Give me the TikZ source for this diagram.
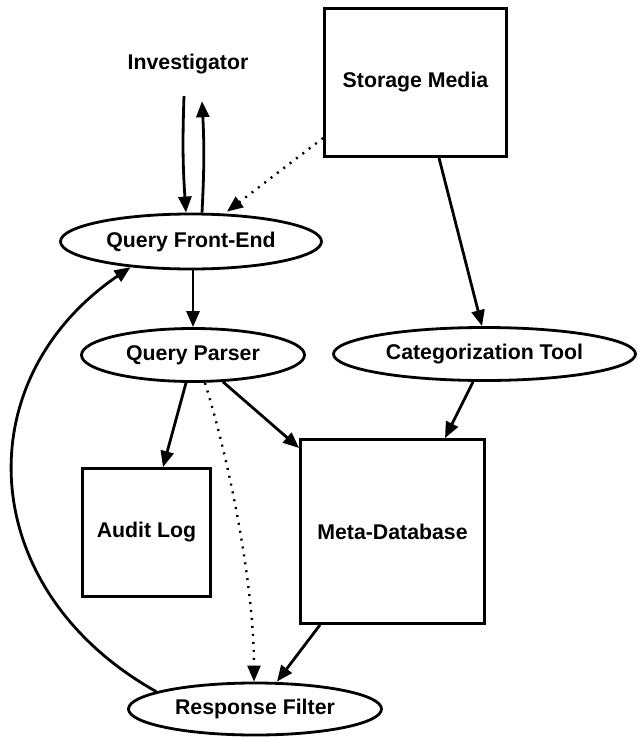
\documentclass[tikz,border=0pt]{standalone}
\usepackage{fontspec}
\setmainfont{Liberation Sans}
\usetikzlibrary{shapes.geometric,arrows.meta}
\begin{document}
\begin{tikzpicture}[x=1pt,y=-1pt,
  every node/.style={font=\fontsize{21.3}{25}\selectfont\bfseries},
  lw/.style={line width=2.8pt},
  oval/.style={lw,draw,ellipse,inner sep=0pt},
  boxn/.style={lw,draw,rectangle,inner sep=0pt},
  arr/.style={lw,-{Triangle[length=16pt,width=13pt]}},
  dotarr/.style={line width=2.4pt,dash pattern=on 2pt off 6pt,-{Triangle[length=16pt,width=13pt]}}]
\useasboundingbox (0,0) rectangle (637,738);
\node[minimum height=64pt,inner sep=0pt] (inv) at (188,64) {Investigator};
\node[boxn,minimum width=182pt,minimum height=148pt] (sm) at (415.5,82.5) {Storage Media};
\node[oval,minimum width=261pt,minimum height=55pt] (qfe) at (191,241.5) {Query Front-End};
\node[oval,minimum width=223pt,minimum height=53pt] (qp) at (193,355) {Query Parser};
\node[oval,minimum width=302pt,minimum height=53pt] (ct) at (484.5,354) {Categorization Tool};
\node[boxn,minimum width=128pt,minimum height=128pt] (al) at (146.5,532.5) {Audit Log};
\node[boxn,minimum width=184pt,minimum height=184pt] (md) at (392.5,531.5) {Meta-Database};
\node[oval,minimum width=253pt,minimum height=52pt] (rf) at (255,709) {Response Filter};
% Investigator <-> Query Front-End
\draw[arr] ([xshift=-4pt]inv.south) to[bend right=3] ([xshift=-5pt]qfe.north);
\draw[arr] ([xshift=11pt]qfe.north) to[bend right=3] ([xshift=14pt,yshift=-5pt]inv.south);
% Storage Media dotted to Front-End
\draw[dotarr] ([yshift=-55.5pt]sm.west) -- ([xshift=36pt,yshift=1pt]qfe.north);
% Front-End -> Parser
\draw[arr] ([xshift=2pt]qfe.south) -- (qp.north);
% Parser -> Audit Log
\draw[arr] ([xshift=-7pt]qp.south) -- ([xshift=16.5pt]al.north);
% Parser -> Meta-Database
\draw[arr] ([xshift=30pt,yshift=1pt]qp.south) -- ([yshift=83.5pt]md.west);
% Parser dotted -> Response Filter
\draw[dotarr] ([xshift=12pt]qp.south) .. controls (232,470) and (254,590) .. ([xshift=-1pt]rf.north);
% Storage -> Categorization
\draw[arr] ([xshift=23.5pt]sm.south) -- ([xshift=-2.5pt]ct.north);
% Categorization -> Meta-Database
\draw[arr] ([xshift=-11.5pt]ct.south) -- ([xshift=52.5pt]md.north);
% Meta-Database -> Response Filter
\draw[arr] ([xshift=-72.5pt]md.south) -- ([xshift=22pt]rf.north);
% Response Filter -> Front-End (loop)
\draw[arr] (rf.170) .. controls (-25,590) and (-35,380) .. (qfe.203);
\end{tikzpicture}
\end{document}
